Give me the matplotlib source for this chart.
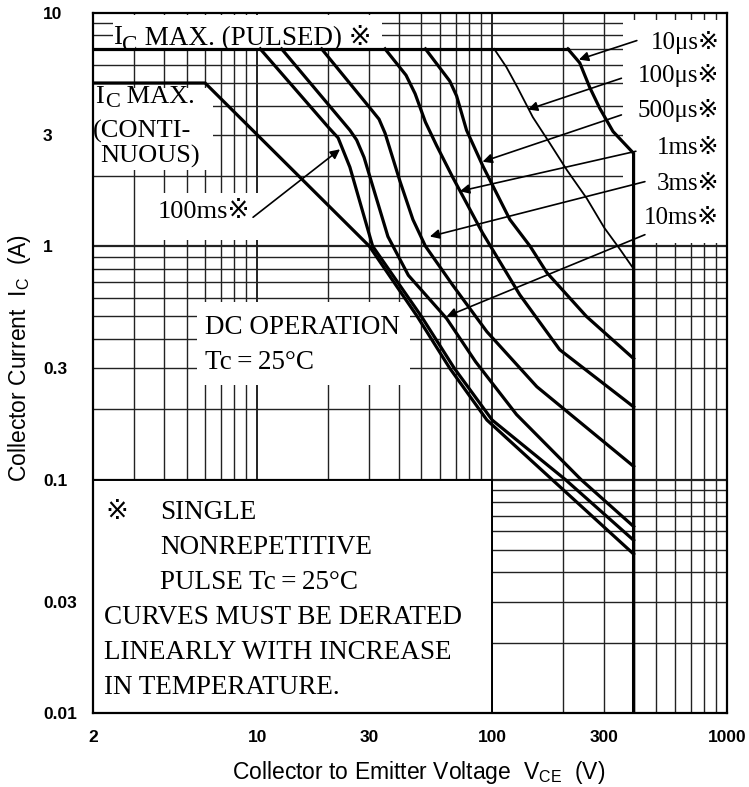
import matplotlib
matplotlib.use('Agg')
import matplotlib.pyplot as plt
from matplotlib.patches import Rectangle
from matplotlib.ticker import NullLocator

plt.rcParams['mathtext.fontset'] = 'custom'
plt.rcParams['mathtext.rm'] = 'Liberation Sans'
plt.rcParams['mathtext.it'] = 'Liberation Sans:italic'

# ---- data (V in volts, I in amperes) ----
pulsed_v = [2, 210]
pulsed_i = [7, 7]

dc_v = [2, 6, 30, 48, 66, 95, 180, 400]
dc_i = [5, 5, 1.0, 0.5, 0.3, 0.18, 0.1, 0.048]

ms100_v = [10.3, 20.2, 22.1, 24.8, 31, 50, 69, 100, 205, 400]
ms100_i = [7, 3.21, 2.91, 2.18, 1.0, 0.5, 0.3, 0.18, 0.1, 0.055]

ms10_v = [12.7, 24.8, 26.5, 28.5, 36, 44, 64, 85, 127, 239, 400]
ms10_i = [7, 3.14, 2.85, 2.4, 1.1, 0.75, 0.49, 0.32, 0.19, 0.1, 0.063]

ms3_v = [18.8, 30.7, 33, 35, 40.5, 46, 52, 68, 95, 155, 400]
ms3_i = [7, 3.83, 3.5, 3.05, 1.9, 1.3, 1.0, 0.68, 0.43, 0.25, 0.114]

ms1_v = [35, 43, 47, 52, 58, 68, 91, 131, 194, 400]
ms1_i = [7, 5.4, 4.5, 3.4, 2.7, 1.97, 1.14, 0.62, 0.36, 0.205]

us500_v = [52, 66, 70.6, 77.8, 91.4, 119, 145, 171, 252, 400]
us500_i = [7, 5.1, 4.4, 3.14, 2.2, 1.3, 1.0, 0.77, 0.5, 0.33]

us100_v = [102, 115, 128, 149, 176, 208, 253, 300, 350, 400]
us100_i = [7, 5.85, 4.8, 3.57, 2.76, 2.12, 1.6, 1.2, 0.97, 0.8]

us10_v = [210, 236, 260, 287, 327, 400, 400]
us10_i = [7, 6.1, 4.8, 3.9, 3.1, 2.5, 0.01]

x_ticks = [2, 10, 30, 100, 300, 1000]
x_labels = ['2', '10', '30', '100', '300', '1000']
y_ticks = [0.01, 0.03, 0.1, 0.3, 1, 3, 10]
y_labels = ['0.01', '0.03', '0.1', '0.3', '1', '3', '10']

grid_v = [3, 4, 5, 6, 7, 8, 9, 10, 20, 30, 40, 50, 60, 70, 80, 90,
          100, 200, 300, 400, 500, 600, 700, 800, 900]
grid_i = [0.02, 0.03, 0.04, 0.05, 0.06, 0.07, 0.08, 0.09,
          0.1, 0.2, 0.3, 0.4, 0.5, 0.6, 0.7, 0.8, 0.9,
          1, 2, 3, 4, 5, 6, 7, 8, 9]

# pulse labels: text, label y (axes fraction), arrow tail (V, I), arrow tip (V, I)
pulse_labels = ['10\u03bcs\u203b', '100\u03bcs\u203b', '500\u03bcs\u203b',
                '1ms\u203b', '3ms\u203b', '10ms\u203b']
pulse_label_y = [0.958, 0.911, 0.861, 0.807, 0.755, 0.707]
arrow_tail = [(413, 7.6), (355, 5.24), (355, 3.65), (409, 2.55), (447, 1.89), (447, 1.12)]
arrow_tip = [(234, 6.3), (142, 3.85), (91, 2.3), (72.9, 1.72), (54.3, 1.1), (64, 0.5)]

serif = ['Liberation Serif', 'DejaVu Sans', 'Noto Sans CJK JP']
fs = 19.5

fig = plt.figure(figsize=(7.49, 7.87), dpi=100)
ax = fig.add_axes([0.1242, 0.0940, 0.8465, 0.8898])
ax.set_xscale('log')
ax.set_yscale('log')
ax.set_xlim(2, 1000)
ax.set_ylim(0.01, 10)

# grid
for v in grid_v:
    ax.axvline(v, color='#222222', lw=1.4 if v in (10, 100) else 1.0, zorder=1)
for i in grid_i:
    ax.axhline(i, color='#222222', lw=1.6 if i in (0.1, 1) else 1.0, zorder=1)

# white label areas over the grid
for x0, y0, w, h in [(0.0, 0.775, 0.19, 0.1175), (0.09, 0.675, 0.177, 0.067),
                     (0.164, 0.468, 0.336, 0.119), (0.836, 0.671, 0.164, 0.319),
                     (0.0315, 0.95, 0.4245, 0.047)]:
    ax.add_patch(Rectangle((x0, y0), w, h, transform=ax.transAxes,
                           facecolor='white', edgecolor='none', zorder=2))
ax.add_patch(Rectangle((2, 0.01), 98, 0.09, facecolor='white',
                       edgecolor='black', lw=1.4, zorder=2))

# SOA curves
lw = 2.3
ax.plot(pulsed_v, pulsed_i, color='black', lw=lw, zorder=4)
for v, i in [(dc_v, dc_i), (ms100_v, ms100_i), (ms10_v, ms10_i), (ms3_v, ms3_i),
             (ms1_v, ms1_i), (us500_v, us500_i), (us10_v, us10_i)]:
    ax.plot(v, i, color='black', lw=lw, zorder=4, solid_joinstyle='round')
ax.plot(us100_v, us100_i, color='black', lw=1.3, zorder=4)

# labels with arrows
for txt, ly, tail, tip in zip(pulse_labels, pulse_label_y, arrow_tail, arrow_tip):
    ax.text(0.988, ly, txt, transform=ax.transAxes, ha='right', va='center',
            family=serif, size=18, zorder=5)
    ax.annotate('', xy=tip, xytext=tail,
                arrowprops=dict(arrowstyle='-|>', color='black', lw=1.2,
                                mutation_scale=14, shrinkA=0, shrinkB=0), zorder=5)

ax.text(0.1025, 0.7154, '100ms\u203b', transform=ax.transAxes, ha='left', va='center',
        family=serif, size=19, zorder=5)
ax.annotate('', xy=(22.5, 2.6), xytext=(9.6, 1.33),
            arrowprops=dict(arrowstyle='-|>', color='black', lw=1.2,
                            mutation_scale=14, shrinkA=0, shrinkB=0), zorder=5)


def sub_label(x, y, rest, size, drop):
    t_i = ax.text(x, y, 'I', transform=ax.transAxes, ha='left', va='bottom',
                  family=serif, size=size, zorder=5)
    t_c = ax.annotate('C', xy=(1, 0), xycoords=t_i, xytext=(0.5, -drop),
                      textcoords='offset points', ha='left', va='bottom',
                      family=serif, size=size * 0.85, zorder=5)
    ax.annotate(rest, xy=(1, 0), xycoords=(t_c, t_i), ha='left', va='bottom',
                family=serif, size=size, zorder=5)


sub_label(0.031, 0.947, ' MAX. (PULSED) \u203b', fs, 4.5)
sub_label(0.004, 0.864, ' MAX.', 19, 3)
ax.text(0.0, 0.831, '(CONTI-', transform=ax.transAxes, ha='left', va='center',
        family=serif, size=19, zorder=5)
ax.text(0.011, 0.795, 'NUOUS)', transform=ax.transAxes, ha='left', va='center',
        family=serif, size=19, zorder=5)

ax.text(0.177, 0.551, 'DC OPERATION', transform=ax.transAxes, ha='left', va='center',
        family=serif, size=fs, zorder=5)
ax.text(0.177, 0.500, 'Tc\u2009=\u200925\u00b0C', transform=ax.transAxes, ha='left',
        va='center', family=serif, size=fs, zorder=5)

notes = [(0.019, 0.287, '\u203b'), (0.106, 0.287, 'SINGLE'),
         (0.106, 0.236, 'NONREPETITIVE'), (0.106, 0.187, 'PULSE Tc\u2009=\u200925\u00b0C'),
         (0.017, 0.137, 'CURVES MUST BE DERATED'),
         (0.017, 0.087, 'LINEARLY WITH INCREASE'),
         (0.017, 0.036, 'IN TEMPERATURE.')]
for x, y, t in notes:
    ax.text(x, y, t, transform=ax.transAxes, ha='left', va='center',
            family=serif, size=fs, zorder=5)

# axes and ticks
ax.set_xticks(x_ticks, x_labels)
ax.set_yticks(y_ticks, y_labels)
ax.xaxis.set_minor_locator(NullLocator())
ax.yaxis.set_minor_locator(NullLocator())
ax.tick_params(length=0)
ax.tick_params(axis='x', pad=12)
ax.tick_params(axis='y', pad=36)
for lbl in ax.get_xticklabels() + ax.get_yticklabels():
    lbl.set_family('Liberation Sans')
    lbl.set_fontweight('bold')
    lbl.set_fontsize(12.5)
plt.setp(ax.get_yticklabels(), ha='left')
for s in ax.spines.values():
    s.set_linewidth(1.6)
    s.set_zorder(6)

fig.text(419 / 749, 1 - 773 / 787, 'Collector to Emitter Voltage  V$_{\\rm CE}$  (V)',
         ha='center', va='center', family='Liberation Sans', size=16.5)
fig.text(20 / 749, 1 - 358 / 787, 'Collector Current  I$_{\\rm C}$  (A)', rotation=90,
         ha='center', va='center', family='Liberation Sans', size=16.5)

fig.savefig('out.png', dpi=100)
